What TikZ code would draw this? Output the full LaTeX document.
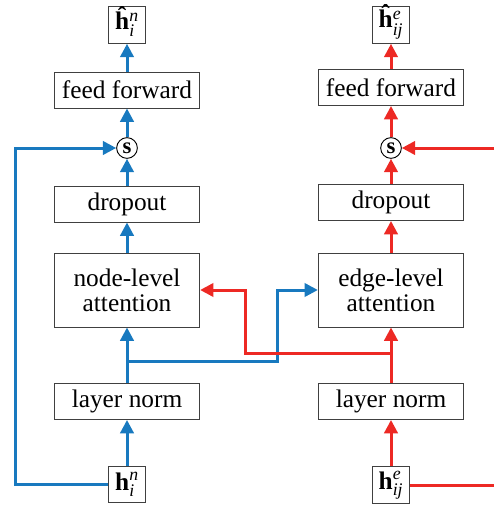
\documentclass[tikz,border=0pt]{standalone}
\usepackage{amsmath}
\usepackage{fontspec}
\setmainfont{Liberation Serif}
\usetikzlibrary{arrows.meta}
\definecolor{nblue}{RGB}{24,121,191}
\definecolor{ered}{RGB}{237,41,36}
\tikzset{
  blk/.style={draw=black!75,line width=0.7pt,inner sep=0pt,align=center,
    minimum width=109pt,minimum height=27pt,font=\rmfamily\fontsize{19}{21}\selectfont},
  vec/.style={draw=black!75,line width=0.7pt,inner sep=0pt,
    minimum size=27.5pt,font=\rmfamily\fontsize{19}{21}\selectfont},
  sum/.style={draw=black,line width=0.7pt,circle,inner sep=0pt,
    minimum size=15.5pt,font=\rmfamily\fontsize{17}{19}\selectfont\bfseries},
  bflow/.style={nblue,line width=2.25pt,-{Triangle[length=10pt,width=10pt]}},
  rflow/.style={ered,line width=2.25pt,-{Triangle[length=10pt,width=10pt]}},
}
\begin{document}
\begin{tikzpicture}[x=0.75pt,y=0.75pt,yscale=-1,xscale=1]
\useasboundingbox (0,0) rectangle (494,506);

%node branch
\node[vec] (hn) at (127,484.5) {$\textbf{h}^{\textit{n}}_{\textit{i}}$};
\node[blk] (lnn) at (127,401.5) {layer norm};
\node[blk,minimum height=55.5pt] (natt) at (127,290) {node-level\\[-2pt]attention};
\node[blk] (dropn) at (127,204) {dropout};
\node[sum] (ns) at (127,148) {s};
\node[blk] (ffn) at (127,90) {feed forward};
\node[vec] (hatn) at (127,25) {$\smash[t]{\textbf{ĥ}}^{\textit{n}}_{\textit{i}}$};

%edge branch
\node[vec] (he) at (391,485) {$\textbf{h}^{\textit{e}}_{\textit{ij}}$};
\node[blk] (lne) at (391,401.5) {layer norm};
\node[blk,minimum height=55.5pt] (eatt) at (391,290) {edge-level\\[-2pt]attention};
\node[blk] (drope) at (391,202.5) {dropout};
\node[sum] (es) at (391,148) {s};
\node[blk] (ffe) at (391,87.5) {feed forward};
\node[vec] (hate) at (391,25) {$\smash[t]{\textbf{ĥ}}^{\textit{e}}_{\textit{ij}}$};

\coordinate (nsplit) at (127,361);
\coordinate (esplit) at (391,353);

%blue arrows
\draw[bflow] (hn) -- (lnn);
\draw[bflow] (lnn) -- (natt);
\draw[bflow] (natt) -- (dropn);
\draw[bflow] (dropn) -- (ns);
\draw[bflow] (ns) -- (ffn);
\draw[bflow] (ffn) -- (hatn);
\draw[bflow] (hn.west) -- (15,484.5) |- (ns.west);
\draw[bflow] (nsplit) -- (277,361) |- (eatt.west);

%red arrows
\draw[rflow] (he) -- (lne);
\draw[rflow] (lne) -- (eatt);
\draw[rflow] (eatt) -- (drope);
\draw[rflow] (drope) -- (es);
\draw[rflow] (es) -- (ffe);
\draw[rflow] (ffe) -- (hate);
\draw[ered,line width=2.25pt] (he.east) -- (494,485);
\draw[rflow] (494,148) -- (es.east);
\draw[rflow] (esplit) -- (245,353) |- (natt.east);

\end{tikzpicture}
\end{document}
